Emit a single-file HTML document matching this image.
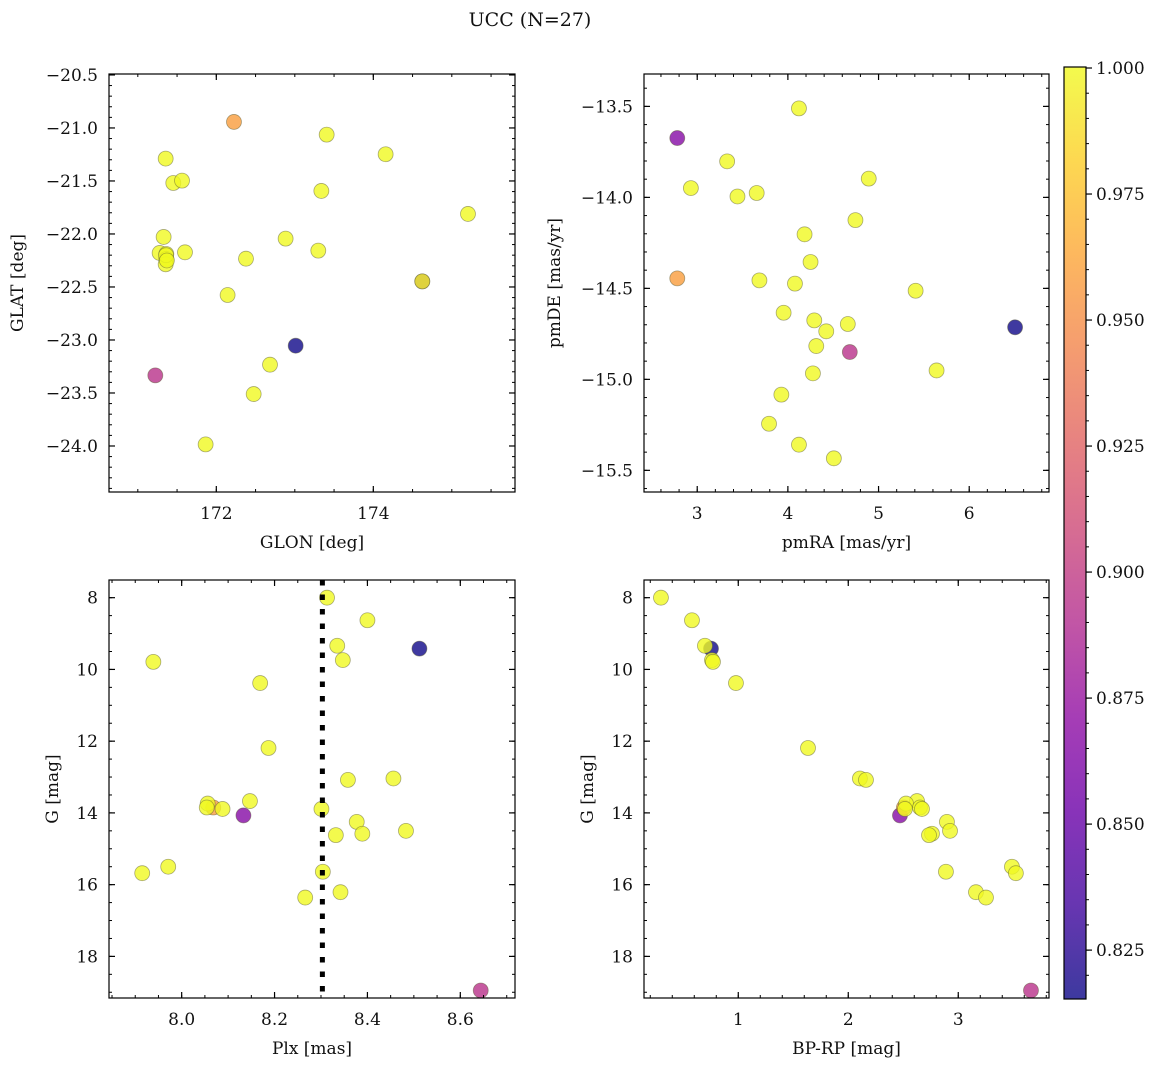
<!DOCTYPE html>
<html><head><meta charset="utf-8">
<style>
html,body{margin:0;padding:0;background:#fff;}
svg{display:block;font-family:"DejaVu Serif","Liberation Serif",serif;}
</style></head>
<body>
<svg id="fig" width="1161" height="1067" viewBox="0 0 1161 1067" xmlns="http://www.w3.org/2000/svg">
<text x="530" y="26" text-anchor="middle" font-size="19" fill="#111">UCC (N=27)</text>
</svg>
<script>
// ---- data (one entry per star) ----
const glon = [172.225,173.406,174.157,171.355,171.452,171.563,173.338,175.206,171.329,172.883,171.601,173.299,171.278,171.363,171.363,171.355,172.378,174.624,172.144,173.011,172.684,171.223,172.476,171.864,171.36,171.37,174.624];
const glat = [-20.943,-21.063,-21.248,-21.289,-21.519,-21.497,-21.594,-21.811,-22.028,-22.044,-22.173,-22.157,-22.179,-22.189,-22.236,-22.286,-22.233,-22.447,-22.576,-23.054,-23.233,-23.334,-23.510,-23.985,-22.20,-22.25,-22.447];
const pmra = [2.780,4.122,3.330,2.930,3.444,3.656,4.892,4.745,4.184,4.250,3.686,4.078,5.409,3.953,4.291,4.661,4.423,2.780,4.313,6.506,5.640,4.683,4.276,3.928,3.792,4.122,4.507];
const pmde = [-14.445,-13.511,-13.802,-13.949,-13.995,-13.976,-13.897,-14.125,-14.203,-14.355,-14.456,-14.474,-14.513,-14.634,-14.676,-14.696,-14.736,-13.674,-14.817,-14.714,-14.951,-14.850,-14.967,-15.084,-15.244,-15.359,-15.434];
const plx = [8.068,8.313,8.400,8.335,8.347,7.939,8.169,8.187,8.456,8.358,8.147,8.056,8.054,8.088,8.301,8.377,8.483,8.133,8.389,8.512,8.332,8.644,7.971,8.304,7.915,8.342,8.266];
const gmag = [13.85,8.00,8.63,9.34,9.74,9.79,10.38,12.19,13.04,13.08,13.67,13.74,13.85,13.89,13.89,14.25,14.50,14.07,14.58,9.42,14.62,18.95,15.50,15.64,15.68,16.21,16.36];
const bprp = [2.506,0.297,0.579,0.697,0.761,0.770,0.979,1.634,2.106,2.161,2.625,2.525,2.652,2.670,2.515,2.897,2.925,2.470,2.761,0.752,2.734,3.661,3.488,2.888,3.524,3.161,3.252];
const prob = [0.958,1,1,1,1,1,1,1,1,1,1,1,1,1,1,1,1,0.866,1,0.816,1,0.894,1,1,1,1,1];
const plxLine = [8.303];
const cbTicks = [0.825,0.850,0.875,0.900,0.925,0.950,0.975,1.000];
const cbMin = 0.8153, cbMax = 1.0002;

const NS="http://www.w3.org/2000/svg";
const svg=document.getElementById('fig');
function mk(tag,attrs,parent){const e=document.createElementNS(NS,tag);for(const k in attrs)e.setAttribute(k,attrs[k]);(parent||svg).appendChild(e);return e;}

const stops=[[13,8,135],[65,4,157],[106,0,168],[143,13,164],[177,42,144],[204,71,120],[225,100,98],[242,132,75],[252,166,54],[252,206,37],[240,249,33]];
function plasma(t){t=Math.max(0,Math.min(1,t));const f=t*10,i=Math.min(9,Math.floor(f)),r=f-i;
 const a=stops[i],b=stops[i+1];const c=a.map((v,k)=>v+(b[k]-v)*r);
 return 'rgb('+c.map(v=>Math.round(v*0.8+255*0.2)).join(',')+')';}
function colorRGBA(p){const t=Math.max(0,Math.min(1,(p-cbMin)/(cbMax-cbMin)));const f=t*10,i=Math.min(9,Math.floor(f)),r=f-i;
 const a=stops[i],b=stops[i+1];const c=a.map((v,k)=>Math.round(v+(b[k]-v)*r));return 'rgba('+c.join(',')+',0.8)';}

function fmt(v,d){let s=v.toFixed(d);return s.replace('-','\u2212');}

function panel(cfg){
 const g=mk('g',{});
 
 
 const {x0,y0,w,h,xmin,xmax,ymin,ymax,inv}=cfg;
 const sx=v=>x0+(v-xmin)/(xmax-xmin)*w;
 const sy=v=>inv? y0+(v-ymin)/(ymax-ymin)*h : y0+h-(v-ymin)/(ymax-ymin)*h;
 const bg=mk('rect',{x:x0,y:y0,width:w,height:h,fill:'#fff'},g);
 
 
 const order=cfg.xs.map((_,i)=>i).sort((a,b)=>prob[a]-prob[b]);
 const pg=mk('g',{},g);
 
 
 order.forEach(i=>{const c=mk('circle',{cx:sx(cfg.xs[i]),cy:sy(cfg.ys[i]),r:7.5,fill:colorRGBA(prob[i]),stroke:'rgba(90,90,50,0.5)','stroke-width':0.8},pg);
  
  });
 if(cfg.vline){cfg.vline.forEach(v=>{const l=mk('line',{x1:sx(v),x2:sx(v),y1:y0,y2:y0+h,stroke:'#000','stroke-width':5,'stroke-dasharray':'5.5 9'},g);
  
  });}
 mk('rect',{x:x0,y:y0,width:w,height:h,fill:'none',stroke:'#000','stroke-width':1.2},g);
 const eps=1e-9;
 function ticksBetween(a,b,step){const out=[];let s=Math.ceil((Math.min(a,b)-eps)/step)*step;for(let v=s;v<=Math.max(a,b)+eps;v+=step)out.push(+v.toFixed(6));return out;}
 ticksBetween(xmin,xmax,cfg.xminor).forEach(v=>{const X=sx(v);mk('line',{x1:X,x2:X,y1:y0+h,y2:y0+h-3,stroke:'#000'},g);mk('line',{x1:X,x2:X,y1:y0,y2:y0+3,stroke:'#000'},g);});
 ticksBetween(ymin,ymax,cfg.yminor).forEach(v=>{const Y=sy(v);mk('line',{x1:x0,x2:x0+3,y1:Y,y2:Y,stroke:'#000'},g);mk('line',{x1:x0+w,x2:x0+w-3,y1:Y,y2:Y,stroke:'#000'},g);});
 ticksBetween(xmin,xmax,cfg.xmajor).forEach(v=>{const X=sx(v);mk('line',{x1:X,x2:X,y1:y0+h,y2:y0+h-6,stroke:'#000','stroke-width':1.2},g);mk('line',{x1:X,x2:X,y1:y0,y2:y0+6,stroke:'#000','stroke-width':1.2},g);
  const t=mk('text',{x:X,y:y0+h+27,'text-anchor':'middle','font-size':17,fill:'#111'},g);t.textContent=fmt(v,cfg.xdec);
  
  });
 ticksBetween(ymin,ymax,cfg.ymajor).forEach(v=>{const Y=sy(v);mk('line',{x1:x0,x2:x0+6,y1:Y,y2:Y,stroke:'#000','stroke-width':1.2},g);mk('line',{x1:x0+w,x2:x0+w-6,y1:Y,y2:Y,stroke:'#000','stroke-width':1.2},g);
  const t=mk('text',{x:x0-11,y:Y+6,'text-anchor':'end','font-size':17,fill:'#111'},g);t.textContent=fmt(v,cfg.ydec);
  
  });
 const xl=mk('text',{x:x0+w/2,y:y0+h+56,'text-anchor':'middle','font-size':17,fill:'#111'},g);xl.textContent=cfg.xlabel;
 
 
 const yl=mk('text',{x:cfg.ylx,y:y0+h/2,'text-anchor':'middle','font-size':17,fill:'#111',transform:'rotate(-90 '+cfg.ylx+' '+(y0+h/2)+')'},g);yl.textContent=cfg.ylabel;
 
 
}

panel({name:'glon-glat-panel',x0:109,y0:74,w:406,h:418,xmin:170.633,xmax:175.805,ymin:-24.434,ymax:-20.491,inv:false,xs:glon,ys:glat,xmajor:2,xminor:0.5,ymajor:0.5,yminor:0.1,xdec:0,ydec:1,xlabel:'GLON [deg]',ylabel:'GLAT [deg]',ylx:23});
panel({name:'pm-panel',x0:644,y0:74,w:405,h:418,xmin:2.413,xmax:6.880,ymin:-15.619,ymax:-13.322,inv:false,xs:pmra,ys:pmde,xmajor:1,xminor:0.2,ymajor:0.5,yminor:0.1,xdec:0,ydec:1,xlabel:'pmRA [mas/yr]',ylabel:'pmDE [mas/yr]',ylx:560});
panel({name:'plx-g-panel',x0:109,y0:580,w:406,h:418,xmin:7.8435,xmax:8.7178,ymin:7.507,ymax:19.16,inv:true,xs:plx,ys:gmag,xmajor:0.2,xminor:0.05,ymajor:2,yminor:0.5,xdec:1,ydec:0,xlabel:'Plx [mas]',ylabel:'G [mag]',ylx:58,vline:plxLine});
panel({name:'cmd-panel',x0:644,y0:580,w:405,h:418,xmin:0.143,xmax:3.825,ymin:7.507,ymax:19.16,inv:true,xs:bprp,ys:gmag,xmajor:1,xminor:0.2,ymajor:2,yminor:0.5,xdec:0,ydec:0,xlabel:'BP-RP [mag]',ylabel:'G [mag]',ylx:593});

(function(){
 const cx=1064,cy=67,cw=22,ch=932;
 const cg=mk('g',{});
 
 
 const defs=mk('defs',{},cg);
 const lg=mk('linearGradient',{id:'pl',x1:0,y1:1,x2:0,y2:0},defs);
 for(let i=0;i<=20;i++){mk('stop',{offset:(i/20),'stop-color':plasma(i/20)},lg);}
 mk('rect',{x:cx,y:cy,width:cw,height:ch,fill:'url(#pl)',stroke:'#000','stroke-width':1.2},cg);
 const sy=v=>cy+ch-(v-cbMin)/(cbMax-cbMin)*ch;
 for(let v=0.820;v<=1.0001;v+=0.005){const Y=sy(v);if(Y<cy||Y>cy+ch)continue;mk('line',{x1:cx+cw,x2:cx+cw+3,y1:Y,y2:Y,stroke:'#000'},cg);}
 cbTicks.forEach(v=>{const Y=sy(v);mk('line',{x1:cx+cw,x2:cx+cw+6,y1:Y,y2:Y,stroke:'#000','stroke-width':1.2},cg);
  const t=mk('text',{x:cx+cw+10,y:Y+6,'font-size':17,fill:'#111'},cg);t.textContent=v.toFixed(3);
  
  });
})();
</script>
</body></html>
